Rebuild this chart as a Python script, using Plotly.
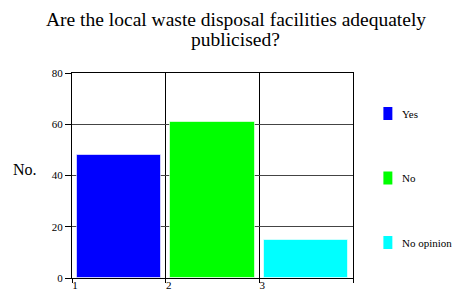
import plotly.graph_objects as go

categories = ["Yes", "No", "No opinion"]
values = [48, 61, 15]
positions = [1.5, 2.5, 3.5]
colors = ["#0000FF", "#00FF00", "#00FFFF"]
y_ticks = [0, 20, 40, 60, 80]
x_ticks = [1, 2, 3, 4]
x_tick_labels = ["1", "2", "3", ""]
title_lines = ["Are the local waste disposal facilities adequately", "publicised?"]
y_label = "No."

FONT = "Liberation Serif"

W, H = 453, 293
# plot area in pixels
L, R, T, B = 71.5, 353.5, 73, 278

fig = go.Figure()
for cat, val, pos, col in zip(categories, values, positions, colors):
    fig.add_trace(go.Bar(
        x=[pos], y=[val], name=cat, width=0.9,
        marker=dict(color=col, line=dict(color="rgba(255,255,255,0.6)", width=1)),
        showlegend=False,
    ))

fig.update_layout(
    width=W, height=H,
    margin=dict(l=L, r=W - R, t=T, b=H - B),
    paper_bgcolor="white", plot_bgcolor="white",
    font=dict(family=FONT, color="black", size=11),
    showlegend=False,
    bargap=0,
)

fig.update_xaxes(
    range=[1, 4], tickmode="array", tickvals=x_ticks, ticktext=x_tick_labels,
    showgrid=True, gridcolor="black", gridwidth=1,
    showline=True, linecolor="black", linewidth=1, mirror=True,
    ticks="outside", ticklen=4, tickcolor="black",
    ticklabelshift=3, ticklabelstandoff=-7,
    tickfont=dict(family=FONT, size=11),
    zeroline=False, fixedrange=True, automargin=False,
)
fig.update_yaxes(
    range=[0, 80], tickmode="array", tickvals=y_ticks,
    showgrid=True, gridcolor="#444444", gridwidth=1,
    showline=True, linecolor="black", linewidth=1, mirror=True,
    ticks="outside", ticklen=6, tickcolor="black",
    ticklabelstandoff=0,
    tickfont=dict(family=FONT, size=11),
    zeroline=False, fixedrange=True, automargin=False,
)

pw, ph = R - L, B - T


def px_x(x):
    return (x - L) / pw


def px_y(y):
    return (B - y) / ph


# title (two lines, tight line spacing as in the reference)
for line, cy in zip(title_lines, [19, 39.5]):
    fig.add_annotation(
        text=line, xref="paper", yref="paper", x=px_x(236), y=px_y(cy),
        xanchor="center", yanchor="middle", showarrow=False,
        font=dict(family=FONT, size=19.5, color="black"),
    )

# y-axis label
fig.add_annotation(
    text=y_label, xref="paper", yref="paper", x=px_x(24), y=px_y(169),
    xanchor="center", yanchor="middle", showarrow=False,
    font=dict(family=FONT, size=16, color="black"),
)

# legend
legend_centers = [113.5, 178, 242.5]
for cat, col, cy in zip(categories, colors, legend_centers):
    fig.add_shape(
        type="rect", xref="paper", yref="paper",
        x0=px_x(384), x1=px_x(393), y0=px_y(cy + 6.5), y1=px_y(cy - 6.5),
        fillcolor=col, line=dict(width=0),
    )
    fig.add_annotation(
        text=cat, xref="paper", yref="paper", x=px_x(401), y=px_y(cy),
        xanchor="left", yanchor="middle", showarrow=False,
        font=dict(family=FONT, size=11, color="black"),
    )

fig.write_html(
    "out.html",
    config={"displayModeBar": False},
    post_script="document.body.style.margin='0';document.body.style.overflow='hidden';",
)
